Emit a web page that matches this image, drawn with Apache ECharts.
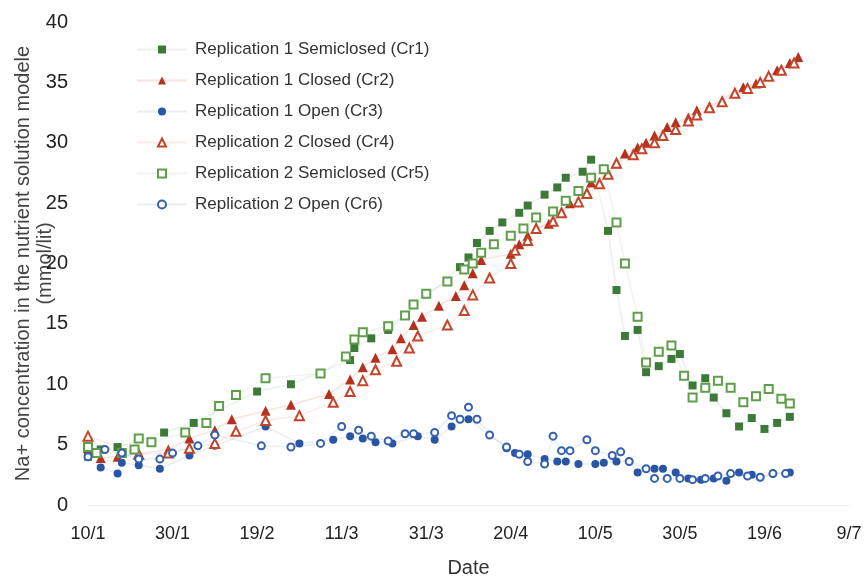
<!DOCTYPE html>
<html>
<head>
<meta charset="utf-8">
<script src="https://cdn.jsdelivr.net/npm/echarts@6/dist/echarts.min.js"></script>
<style>
html,body{margin:0;padding:0;background:#fff;}
#chart{width:868px;height:576px;}
</style>
</head>
<body>
<div id="chart"></div>
<script>
// x values are days counted from 10/1
const tickLabels = ['10/1','30/1','19/2','11/3','31/3','20/4','10/5','30/5','19/6','9/7'];
const seriesNames = [
  'Replication 1 Semiclosed (Cr1)',
  'Replication 1 Closed (Cr2)',
  'Replication 1 Open (Cr3)',
  'Replication 2 Closed (Cr4)',
  'Replication 2 Semiclosed (Cr5)',
  'Replication 2 Open (Cr6)'
];

const cr1Days   = [0,3,7,18,25,40,48,62,63,67,71,88,90,92,95,98,102,104,108,111,113,117,119,123,125,127,130,132,135,138,140,143,146,148,151,154,157,160,163,166];
const cr1Values = [4.0,4.6,4.8,6.0,6.8,9.4,10.0,12.0,13.0,13.8,14.5,19.7,20.5,21.7,22.7,23.4,24.2,24.8,25.7,26.3,27.1,27.6,28.6,22.7,17.8,14.0,14.5,11.0,11.5,12.1,12.5,9.9,10.5,8.9,7.6,6.5,7.2,6.3,6.8,7.3];

const cr2Days   = [0,3,7,19,24,30,34,42,48,57,62,65,68,72,74,77,79,83,87,89,91,93,100,102,104,106,109,112,114,118,119,123,125,127,130,132,134,137,139,142,144,147,155,158,163,166,168];
const cr2Values = [4.7,3.9,4.0,4.6,5.5,6.2,7.1,7.8,8.3,9.2,10.4,11.4,12.2,12.9,13.8,14.9,15.6,16.5,17.3,18.2,19.2,20.3,20.8,21.6,22.3,22.9,23.3,24.2,25.0,25.9,26.7,27.5,28.3,29.1,29.6,30.0,30.6,31.3,31.7,32.1,32.7,33.0,34.6,34.9,36.0,36.6,37.1];

const cr3Days   = [3,7,8,12,17,24,30,42,50,58,62,65,68,72,78,82,86,90,99,101,104,108,111,113,116,120,122,125,128,130,134,136,139,142,145,148,151,154,157,159,162,166];
const cr3Values = [3.1,2.6,3.5,3.3,3.0,4.1,4.9,6.5,5.1,5.4,5.7,5.5,5.2,5.1,5.7,5.4,6.5,7.1,4.7,4.3,4.2,3.8,3.6,3.6,3.4,3.4,3.5,3.6,3.6,2.7,3.0,3.0,2.7,2.2,2.1,2.2,2.0,2.7,2.5,2.3,2.6,2.7];

const cr4Days   = [0,12,19,24,30,35,42,50,58,62,65,68,73,76,78,85,89,91,95,100,101,104,106,110,112,116,118,121,123,125,129,131,134,136,139,142,144,147,150,153,156,159,161,164,167];
const cr4Values = [5.7,4.2,4.3,4.7,5.1,6.1,7.0,7.4,8.5,9.4,10.3,11.2,11.9,13.0,14.0,14.9,16.1,17.4,18.8,20.0,21.1,21.9,22.9,23.5,24.2,25.1,25.8,26.6,27.4,28.3,29.0,29.5,30.0,30.6,31.1,31.8,32.3,32.9,33.4,34.1,34.5,35.0,35.5,36.0,36.6];

const cr5Days   = [0,2,8,11,12,15,23,28,31,35,42,55,61,63,65,71,75,77,80,85,89,91,93,96,100,103,106,110,113,116,119,122,125,127,130,132,135,138,141,143,146,149,152,155,158,161,164,166];
const cr5Values = [4.8,4.3,4.3,4.6,5.5,5.2,6.0,6.8,8.2,9.1,10.5,10.9,12.3,13.7,14.3,14.8,15.7,16.6,17.5,18.5,19.5,20.0,20.9,21.6,22.3,22.9,23.8,24.3,25.2,26.0,27.1,27.8,23.4,20.0,15.6,11.8,12.7,13.2,10.7,8.9,9.7,10.3,9.7,8.5,9.0,9.6,8.8,8.4];

const cr6Days   = [0,4,8,12,17,20,26,30,41,48,55,60,64,67,71,75,77,82,86,88,90,92,95,99,102,104,108,110,112,114,118,120,124,126,128,132,134,137,140,143,146,149,152,156,159,162,165];
const cr6Values = [4.0,4.6,4.3,3.8,3.8,4.3,4.9,5.8,4.9,4.8,5.1,6.5,6.2,5.7,5.3,5.9,5.9,6.0,7.4,7.1,8.1,7.1,5.8,4.8,4.2,3.6,3.4,5.7,4.5,4.5,5.4,4.5,4.1,4.4,3.6,3.0,2.2,2.2,2.2,2.1,2.2,2.4,2.6,2.4,2.3,2.6,2.6];

function pairs(days, vals){ return days.map((d,i)=>[d, vals[i]]); }

const styles = [
  {symbol:'rect', size:8, color:'#3d7a3a', fill:'#3d7a3a', line:'rgba(61,122,58,0.10)', days:cr1Days, vals:cr1Values},
  {symbol:'triangle', size:10, color:'#b5301d', fill:'#b5301d', line:'rgba(200,70,50,0.15)', days:cr2Days, vals:cr2Values},
  {symbol:'circle', size:8, color:'#2a55a5', fill:'#2a55a5', line:'rgba(42,85,165,0.10)', days:cr3Days, vals:cr3Values},
  {symbol:'triangle', size:9, color:'#c2452a', fill:'#ffffff', line:'rgba(200,70,50,0.10)', days:cr4Days, vals:cr4Values},
  {symbol:'rect', size:8, color:'#5f9e4a', fill:'#ffffff', line:'rgba(95,158,74,0.10)', days:cr5Days, vals:cr5Values},
  {symbol:'circle', size:7, color:'#3560ad', fill:'#ffffff', line:'rgba(53,96,173,0.10)', days:cr6Days, vals:cr6Values}
];

const series = styles.map((s, i) => ({
  name: seriesNames[i],
  type: 'line',
  data: pairs(s.days, s.vals),
  symbol: s.symbol,
  symbolSize: s.size,
  showSymbol: true,
  showAllSymbol: true,
  color: s.color,
  itemStyle: {color: s.fill, borderColor: s.color, borderWidth: s.fill === '#ffffff' ? 2 : 0, opacity: 1},
  lineStyle: {color: s.line, width: 1.5},
  emphasis: {disabled: true},
  z: 2 + i
}));

const chart = echarts.init(document.getElementById('chart'), null, {renderer:'canvas'});
chart.setOption({
  animation: false,
  backgroundColor: '#ffffff',
  textStyle: {fontFamily: 'Liberation Sans'},
  grid: {left: 88, right: 19, top: 22, bottom: 71, containLabel: false, outerBoundsMode: 'none'},
  legend: {
    orient: 'vertical',
    left: 131, top: 36,
    itemWidth: 50, itemHeight: 10, itemGap: 14,
    textStyle: {fontSize: 17, color: '#333', fontFamily: 'Liberation Sans', padding: [0,0,0,3]},
    data: seriesNames
  },
  xAxis: {
    type: 'value', min: 0, max: 180, interval: 20,
    name: 'Date', nameLocation: 'middle', nameGap: 53, nameMoveOverlap: false,
    nameTextStyle: {fontSize: 20, color: '#333'},
    axisLine: {show: true, lineStyle: {color: '#eeeeee', width: 1}},
    axisTick: {show: false},
    splitLine: {show: false},
    axisLabel: {fontSize: 18, color: '#222', margin: 20,
      formatter: v => tickLabels[Math.round(v / 20)] || ''}
  },
  yAxis: {
    type: 'value', min: 0, max: 40, interval: 5,
    name: 'Na+ concentration in the nutrient solution modele\n(mmol/lit)',
    nameLocation: 'middle', nameGap: 32, nameRotate: 90, nameMoveOverlap: false,
    nameTextStyle: {fontSize: 20, color: '#444', lineHeight: 22},
    axisLine: {show: false},
    axisTick: {show: false},
    splitLine: {show: false},
    axisLabel: {fontSize: 20, color: '#222', margin: 20}
  },
  series: series
});
</script>
</body>
</html>
